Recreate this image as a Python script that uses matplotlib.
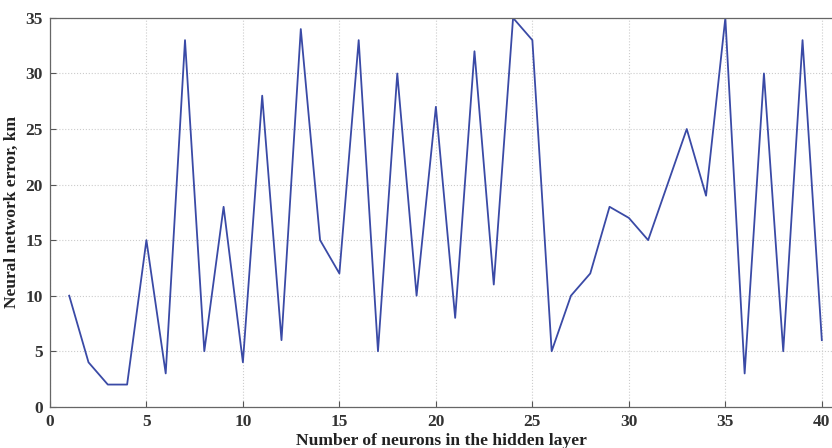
import matplotlib
matplotlib.use("Agg")
import matplotlib.pyplot as plt

# data
neurons = list(range(1, 41))
error_km = [10, 4, 2, 2, 15, 3, 33, 5, 18, 4,
            28, 6, 34, 15, 12, 33, 5, 30, 10, 27,
            8, 32, 11, 35, 33, 5, 10, 12, 18, 17,
            15, 20, 25, 19, 35, 3, 30, 5, 33, 6]
x_ticks = [0, 5, 10, 15, 20, 25, 30, 35, 40]
y_ticks = [0, 5, 10, 15, 20, 25, 30, 35]

plt.rcParams['font.family'] = ['Liberation Serif', 'DejaVu Serif']
plt.rcParams['font.weight'] = 'bold'

fig = plt.figure(figsize=(8.32, 4.48), dpi=100)
ax = fig.add_axes([0.060, 0.092, 0.941, 0.868])

ax.plot(neurons, error_km, color='#3a4aa6', linewidth=1.3)

ax.set_xlim(0, 40.57)
ax.set_ylim(0, 35)
ax.set_xticks(x_ticks)
ax.set_yticks(y_ticks)
ax.grid(True, color='#cccccc', linestyle=':', linewidth=0.8)
ax.tick_params(direction='in', length=4, labelsize=12.5, color='#555555', pad=5)
for lbl in ax.get_xticklabels() + ax.get_yticklabels():
    lbl.set_fontweight('bold')
    lbl.set_color('#333333')
for s in ax.spines.values():
    s.set_color('#666666')
    s.set_linewidth(0.9)
# the reference is cropped just before the right edge of the box
ax.spines['right'].set_visible(False)

ax.set_xlabel('Number of neurons in the hidden layer', fontsize=12.6, fontweight='bold',
              color='#222222', labelpad=2)
ax.set_ylabel('Neural network error, km', fontsize=12.5, fontweight='bold',
              color='#222222', labelpad=4)

fig.savefig('out.png', dpi=100)
